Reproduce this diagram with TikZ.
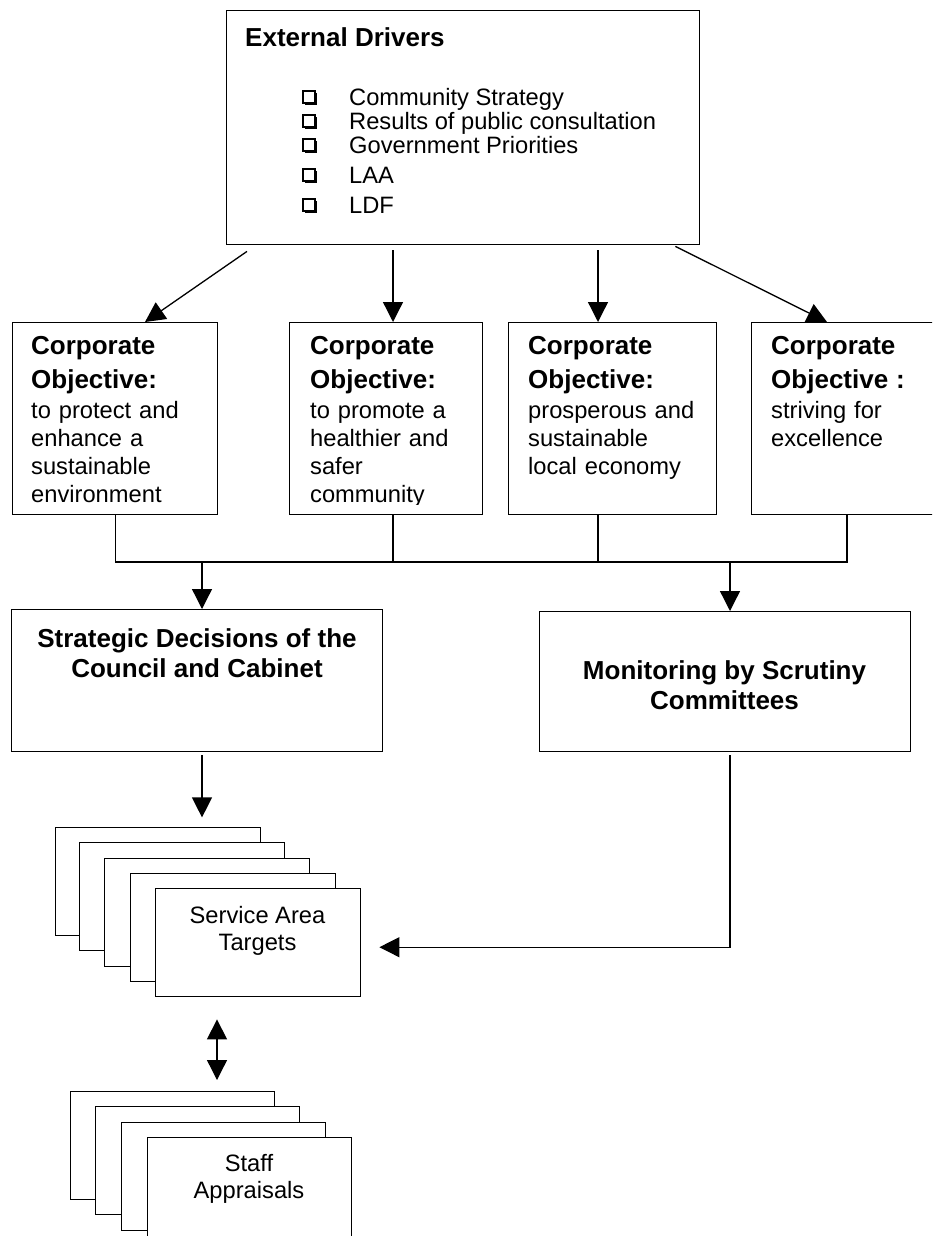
\documentclass[tikz,border=0pt]{standalone}
\usepackage{fontspec}
\setmainfont{Liberation Sans}
\usetikzlibrary{arrows.meta,calc}
\begin{document}
\begin{tikzpicture}[x=1pt,y=-1pt,
  boxstyle/.style={draw,line width=1.4pt,fill=white,inner sep=0pt,anchor=north west,rectangle},
  conn/.style={line width=1.3pt},
  arr/.style={line width=1.3pt,-{Triangle[width=20pt,length=20pt]}},
  dblarr/.style={line width=1.3pt,{Triangle[width=20pt,length=20pt]}-{Triangle[width=20pt,length=20pt]}},
  boldtxt/.style={font=\bfseries\fontsize{26}{30}\selectfont},
  regtxt/.style={font=\fontsize{23.7}{27}\selectfont},
  objtext/.style={anchor=north west,inner sep=0pt,text width=185pt,align=left,font=\fontsize{23.7}{28}\selectfont},
  cbox/.pic={\draw[line width=1.1pt] (-6,-6) rectangle (6,6);
             \draw[line width=2.2pt] (-4,7.1) -- (7.1,7.1) -- (7.1,-4);}
]
\useasboundingbox (0,0) rectangle (932,1236);
\clip (0,0) rectangle (932,1236);

% External drivers
\node[boxstyle,minimum width=473pt,minimum height=234pt] (ext) at (226,10) {};
\node[boldtxt,anchor=base west,inner sep=0pt] (extt) at (245,47) {External Drivers};
\pic at (309,97) {cbox};
\pic at (309,121) {cbox};
\pic at (309,145) {cbox};
\pic at (309,175) {cbox};
\pic at (309,205) {cbox};
\node[regtxt,anchor=base west,inner sep=0pt] (b1) at (349,105.5) {Community Strategy};
\node[regtxt,anchor=base west,inner sep=0pt] (b2) at (349,129.5) {Results of public consultation};
\node[regtxt,anchor=base west,inner sep=0pt] (b3) at (349,153.5) {Government Priorities};
\node[regtxt,anchor=base west,inner sep=0pt] (b4) at (349,183.5) {LAA};
\node[regtxt,anchor=base west,inner sep=0pt] (b5) at (349,213.5) {LDF};

% Corporate objectives
\node[boxstyle,minimum width=205pt,minimum height=192pt] (co1) at (12,322) {};
\node[boxstyle,minimum width=193pt,minimum height=192pt] (co2) at (289,322) {};
\node[boxstyle,minimum width=208pt,minimum height=192pt] (co3) at (508,322) {};
\node[boxstyle,minimum width=200pt,minimum height=192pt] (co4) at (751,322) {};

\node[objtext] (co1t) at ($(co1.north west)+(19,14)$)
  {{\bfseries\fontsize{26}{28}\selectfont Corporate\\[6pt]Objective:}\\[2pt]to protect and\\enhance a\\sustainable\\environment};
\begin{scope}
\clip (289,322) rectangle (482,504);
\node[objtext] (co2t) at ($(co2.north west)+(21,14)$)
  {{\bfseries\fontsize{26}{28}\selectfont Corporate\\[6pt]Objective:}\\[2pt]to promote a\\healthier and\\safer\\community};
\end{scope}
\node[objtext] (co3t) at ($(co3.north west)+(20,14)$)
  {{\bfseries\fontsize{26}{28}\selectfont Corporate\\[6pt]Objective:}\\[2pt]prosperous and\\sustainable\\local economy};
\node[objtext] (co4t) at ($(co4.north west)+(20,14)$)
  {{\bfseries\fontsize{26}{28}\selectfont Corporate\\[6pt]Objective :}\\[2pt]striving for\\excellence};

% arrows from external drivers
\draw[arr] ($(ext.south west)+(21,6)$) -- ($(co1.north west)+(133,0)$);
\draw[arr] ($(co2.north west)+(104,-72)$) -- ($(co2.north west)+(104,0)$);
\draw[arr] ($(co3.north west)+(90,-72)$) -- ($(co3.north west)+(90,0)$);
\draw[arr] ($(ext.south east)+(-25,1)$) -- ($(co4.north west)+(76,0)$);

% lower boxes
\node[boxstyle,minimum width=371pt,minimum height=142pt] (sd) at (11,609) {};
\node[boxstyle,minimum width=371pt,minimum height=140pt] (mon) at (539,611) {};
\node[boldtxt,align=center,inner sep=0pt] (sdt) at (197,653) {Strategic Decisions of the\\Council and Cabinet};
\node[boldtxt,align=center,inner sep=0pt] (mont) at (724.5,685) {Monitoring by Scrutiny\\Committees};

% bus
\coordinate (busD) at (847,562);
\coordinate (j1) at (202,562);
\coordinate (j2) at (730,562);
\draw[conn] (co1.south) -- (co1.south |- busD) -- (busD) -- ($(co4.south west)+(96,0)$);
\draw[conn] ($(co2.south west)+(104,0)$) -- (j1 -| {$(co2.south west)+(104,0)$});
\draw[conn] ($(co3.south west)+(90,0)$) -- (j1 -| {$(co3.south west)+(90,0)$});
\draw[arr] (j1) -- (j1 |- sd.north);
\draw[arr] (j2) -- (j2 |- mon.north);

% service area targets stack
\node[boxstyle,minimum width=205pt,minimum height=108pt] (s1) at (55,827) {};
\node[boxstyle,minimum width=205pt,minimum height=108pt] (s2) at (79,842) {};
\node[boxstyle,minimum width=205pt,minimum height=108pt] (s3) at (104,858) {};
\node[boxstyle,minimum width=205pt,minimum height=108pt] (s4) at (130,873) {};
\node[boxstyle,minimum width=205pt,minimum height=108pt] (s5) at (155,888) {};
\node[regtxt,align=center,inner sep=0pt] (sat) at (257.5,931) {Service Area\\Targets};

% staff appraisals stack
\node[boxstyle,minimum width=204pt,minimum height=108pt] (st1) at (70,1091) {};
\node[boxstyle,minimum width=204pt,minimum height=108pt] (st2) at (95,1106) {};
\node[boxstyle,minimum width=204pt,minimum height=108pt] (st3) at (121,1122) {};
\node[boxstyle,minimum width=204pt,minimum height=108pt] (st4) at (147,1137) {};
\node[regtxt,align=center,inner sep=0pt] (stt) at (249,1179) {Staff\\Appraisals};

% remaining connectors
\draw[arr] ($(sd.south west)+(191,3)$) -- ($(sd.south west)+(191,65)$);
\draw[arr] ($(mon.south west)+(191,3)$) |- ($(s5.east)+(18,4.5)$);
\draw[dblarr] ($(s5.south west)+(62,22)$) -- ($(st4.north west)+(70,-57)$);
\end{tikzpicture}
\end{document}
